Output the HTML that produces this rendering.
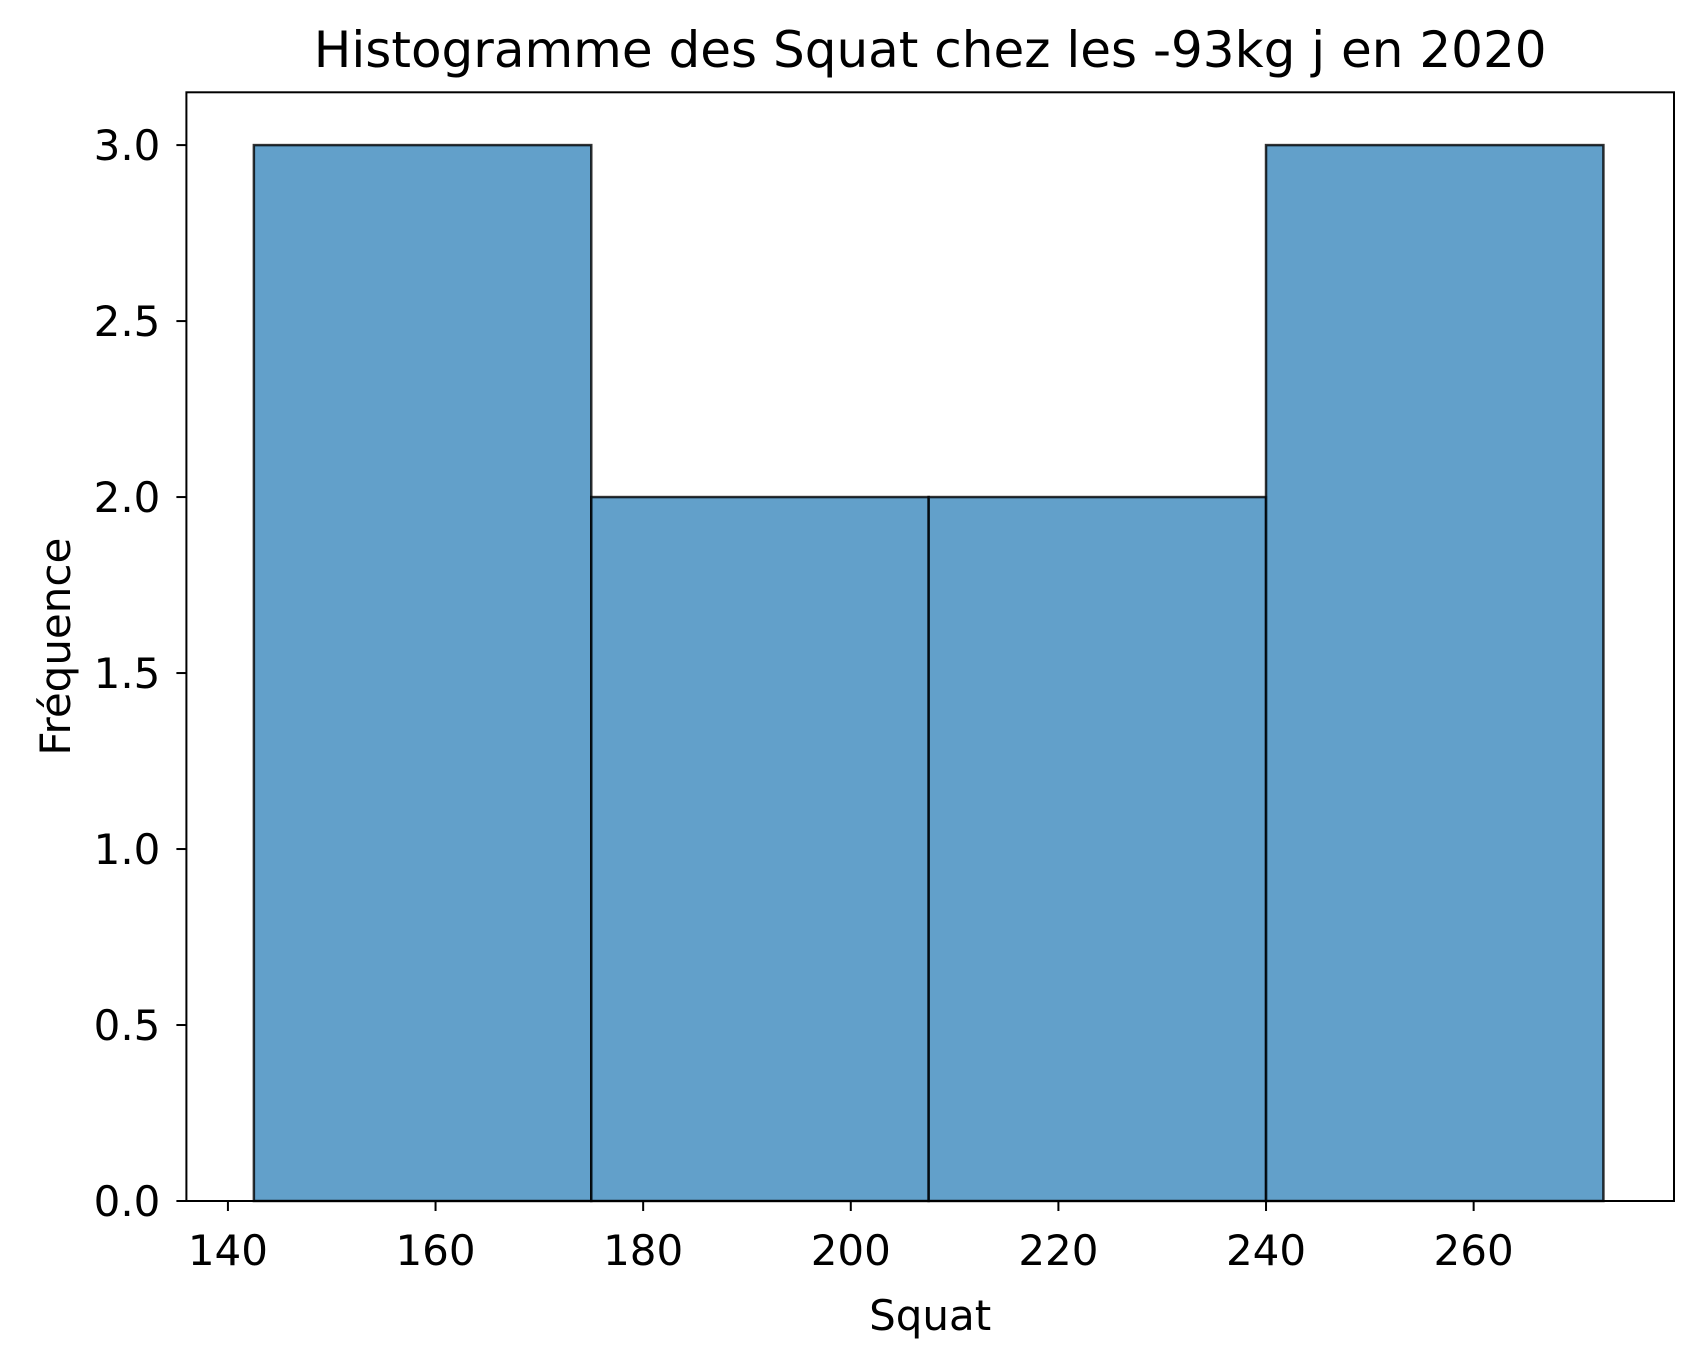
<!DOCTYPE html>
<html><head><meta charset="utf-8"><style>body{margin:0;background:#fff}svg{display:block;font-family:"DejaVu Sans","Liberation Sans",sans-serif}</style></head>
<body>
<svg id="c" width="1703" height="1361" xmlns="http://www.w3.org/2000/svg"></svg>
<script>
const binEdges = [142.5, 175, 207.5, 240, 272.5];
const counts = [3, 2, 2, 3];
const xTicks = [140, 160, 180, 200, 220, 240, 260];
const yTicks = [0, 0.5, 1.0, 1.5, 2.0, 2.5, 3.0];
const yTickLabels = ["0.0","0.5","1.0","1.5","2.0","2.5","3.0"];
const L=186.4,R=1674,T=92.3,B=1201,x0=136,x1=279.3,y0=0,y1=3.15;
const sx=v=>L+(v-x0)/(x1-x0)*(R-L);
const sy=v=>B-(v-y0)/(y1-y0)*(B-T);
const svg=document.getElementById('c');const NS='http://www.w3.org/2000/svg';
function mk(t,a,txt){const e=document.createElementNS(NS,t);for(const k in a)e.setAttribute(k,a[k]);if(txt!=null)e.textContent=txt;svg.appendChild(e);return e;}
counts.forEach((c,i)=>{
 const r=mk('rect',{x:sx(binEdges[i]),y:sy(c),width:sx(binEdges[i+1])-sx(binEdges[i]),height:sy(0)-sy(c),fill:'rgba(31,119,180,0.7)',stroke:'rgba(0,0,0,0.8)','stroke-width':2.5});
 
 
});
const f=mk('rect',{x:L,y:T,width:R-L,height:B-T,fill:'none',stroke:'#000','stroke-width':2});


xTicks.forEach(v=>{
 mk('line',{x1:sx(v),x2:sx(v),y1:B,y2:B+10,stroke:'#000','stroke-width':2});
 const t=mk('text',{x:sx(v),y:B+64,'font-size':42,'text-anchor':'middle'},v);
 
 
});
yTicks.forEach((v,i)=>{
 mk('line',{x1:L-10,x2:L,y1:sy(v),y2:sy(v),stroke:'#000','stroke-width':2});
 const t=mk('text',{x:L-26,y:sy(v)+15,'font-size':42,'text-anchor':'end'},yTickLabels[i]);
 
 
});
const ti=mk('text',{x:(L+R)/2,y:67,'font-size':50,'text-anchor':'middle'},'Histogramme des Squat chez les -93kg j en 2020');


const xl=mk('text',{x:(L+R)/2,y:1330,'font-size':42,'text-anchor':'middle'},'Squat');


const yl=mk('text',{x:0,y:0,'font-size':42,'text-anchor':'middle',transform:`translate(70,${(T+B)/2}) rotate(-90)`},'Fréquence');


</script>
</body></html>
